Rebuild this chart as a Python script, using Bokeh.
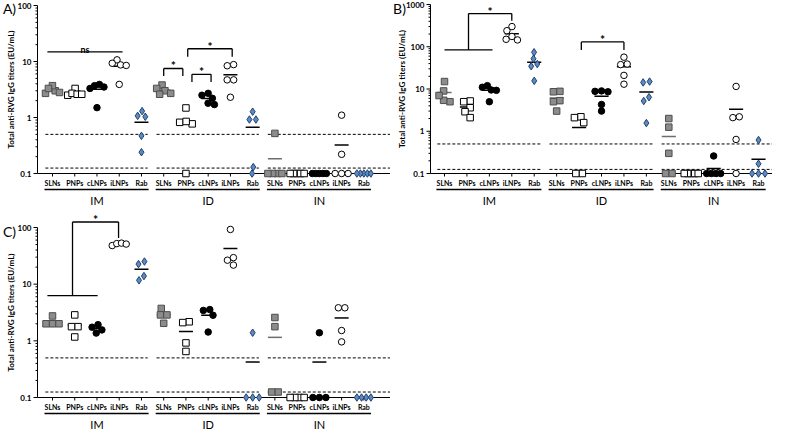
import numpy as np
from bokeh.plotting import figure
from bokeh.layouts import row, column
from bokeh.models import Range1d
from bokeh.core.properties import value
from bokeh.embed import file_html
from bokeh.resources import INLINE

FONT = "Lato"

categories = ["SLNs", "PNPs", "cLNPs", "iLNPs", "Rab"]
routes = ["IM", "ID", "IN"]
lod_levels = [0.5, 0.125]
y_label = "Total anti-RVG IgG titers (EU/mL)"
panel_titles = ["A)", "B)", "C)"]
y_ticks_A = [0.1, 1, 10, 100]
y_ticks_B = [0.1, 1, 10, 100, 1000]
y_ticks_C = [0.1, 1, 10, 100]
y_tick_labels_A = ["0.1", "1", "10", "100"]
y_tick_labels_B = ["0.1", "1", "10", "100", "1000"]
y_tick_labels_C = ["0.1", "1", "10", "100"]

# ---- Panel A values (EU/mL), per route, in category order ----
A_IM = [[2.7, 3.0, 3.7, 3.3, 2.8], [3.3, 2.5, 2.7, 2.6, 2.6], [3.3, 3.9, 3.5, 3.7, 1.5],
        [10.7, 9.3, 8.7, 8.5, 3.9], [1.3, 1.07, 1.03, 0.47, 0.24]]
A_ID = [[3.8, 3.3, 3.0, 2.7, 2.6], [1.48, 0.82, 0.77, 0.85, 0.1], [2.7, 1.7, 2.2, 2.5, 1.8],
        [8.8, 8.4, 4.7, 4.7, 2.3], [1.27, 0.92, 0.92, 0.13, 0.1]]
A_IN = [[0.52, 0.1, 0.1, 0.1, 0.1], [0.1, 0.1, 0.1, 0.1, 0.1], [0.1, 0.1, 0.1, 0.1, 0.1],
        [1.1, 0.22, 0.1, 0.1, 0.1], [0.1, 0.1, 0.1, 0.1, 0.1]]

# ---- Panel B ----
B_IM = [[15.0, 9.0, 5.0, 5.4, 7.0], [5.2, 5.0, 3.6, 2.9, 2.1], [9.3, 11.0, 12.0, 9.5, 5.0],
        [300, 240, 150, 175, 145], [74, 52, 39, 34.5, 15.6]]
B_ID = [[8.8, 8.6, 5.3, 5.0, 3.0], [2.2, 2.1, 1.6, 0.1, 0.1], [8.6, 9.0, 8.8, 4.3, 3.0],
        [56.7, 37.8, 39.0, 21.0, 13.0], [14.3, 15.0, 6.4, 5.2, 1.56]]
B_IN = [[2.0, 1.25, 0.3, 0.1, 0.1], [0.1, 0.1, 0.1, 0.1, 0.1], [0.26, 0.1, 0.1, 0.1, 0.1],
        [11.5, 2.1, 2.2, 0.64, 0.1], [0.62, 0.17, 0.1, 0.1, 0.1]]

# ---- Panel C ----
C_IM = [[2.75, 2.0, 2.0, 2.0], [2.87, 1.78, 1.78, 1.17], [1.37, 1.74, 1.93, 1.56],
        [48, 52, 53, 51], [25.1, 22.6, 13.9, 11.7]]
C_ID = [[3.73, 2.87, 2.87, 2.04], [2.17, 2.1, 0.92, 0.65], [3.44, 3.56, 2.83, 1.43],
        [92.4, 29.4, 26.5, 21.7], [1.39, 0.1, 0.1, 0.1]]
C_IN = [[2.58, 1.78, 0.125, 0.125], [0.1, 0.1, 0.1, 0.1], [1.39, 0.1, 0.1, 0.1],
        [3.83, 3.83, 1.52, 0.96], [0.1, 0.1, 0.1, 0.1]]

# significance annotations: (x_left, x_right, y_top, y_leg_end) in category units / EU/mL
A_ns_bars = [(-0.23, 3.15, 14.8, "ns")]
A_brackets = [(5.0, 5.86, 7.5, 5.5), (6.27, 7.13, 5.9, 4.3), (6.08, 8.08, 16.9, 12.2)]
B_brackets = [(6.1, 8.0, 130, 84)]
C_brackets = []
# composite: (base_x0, base_x1, base_y, top_y, right_x, right_leg_end)
A_composite = []
B_composite = [(0.0, 2.14, 84, 610, 3.0, 412)]
C_composite = [(-0.23, 2.03, 6.3, 125, 2.97, 65)]

styles = {
    "SLNs": dict(marker="square", size=6.5, fill_color="#8c8c8c", line_color="#4d4d4d", mean="#6e6e6e"),
    "PNPs": dict(marker="square", size=6.5, fill_color="white", line_color="black", mean="black"),
    "cLNPs": dict(marker="circle", size=6.5, fill_color="black", line_color="black", mean="black"),
    "iLNPs": dict(marker="circle", size=6.5, fill_color="white", line_color="black", mean="black"),
    "Rab": dict(marker="diamond", size=7.5, fill_color="#5b8ac6", line_color="#21416b", mean="black"),
}

# layout geometry (pixels inside each figure)
configs = [
    dict(fig_w=390, fig_h=213, axis_x=37, cat0=52, top_val=100, top_px=5, ppd=56.0, ppc=22.24,
         ylab_x=10, title_xy=(9, 8)),
    dict(fig_w=382, fig_h=213, axis_x=40, cat0=54, top_val=1000, top_px=4, ppd=42.25, ppc=22.43,
         ylab_x=11, title_xy=(9, 8)),
    dict(fig_w=390, fig_h=218, axis_x=37, cat0=52, top_val=100, top_px=14, ppd=56.67, ppc=22.24,
         ylab_x=10, title_xy=(9, 18)),
]


def swarm(ypx, d=6.5, limit=7.0):
    n = len(ypx)
    order = sorted(range(n), key=lambda i: ypx[i])
    xs = [0.0] * n
    placed = []
    for i in order:
        cands = [0.0]
        for j in placed:
            dy = ypx[i] - ypx[j]
            if abs(dy) < d:
                dx = (d * d - dy * dy) ** 0.5
                cands += [xs[j] - dx, xs[j] + dx]
        cands.sort(key=lambda c: (abs(c), c))
        for c in cands:
            if all((c - xs[j]) ** 2 + (ypx[i] - ypx[j]) ** 2 >= d * d - 1e-6 for j in placed):
                xs[i] = c
                break
        placed.append(i)
    parent = list(range(n))

    def find(a):
        while parent[a] != a:
            parent[a] = parent[parent[a]]
            a = parent[a]
        return a
    for i in range(n):
        for j in range(i + 1, n):
            if abs(ypx[i] - ypx[j]) < d:
                parent[find(i)] = find(j)
    comps = {}
    for i in range(n):
        comps.setdefault(find(i), []).append(i)
    for members in comps.values():
        vals = [xs[i] for i in members]
        shift = (min(vals) + max(vals)) / 2
        for i in members:
            xs[i] -= shift
        m = max(abs(xs[i]) for i in members)
        if m > limit:
            for i in members:
                xs[i] *= limit / m
    return xs


def make_panel(cfg, data, ticks, tick_labels, ns_bars, brackets, composites, title):
    lt = np.log10(cfg["top_val"])
    ppd, tp, ppc = cfg["ppd"], cfg["top_px"], cfg["ppc"]

    def Y(px):
        return 10 ** (lt - (px - tp) / ppd)

    def PX(v):
        return tp + (lt - np.log10(v)) * ppd

    xs0 = -cfg["cat0"] / ppc
    xs1 = xs0 + cfg["fig_w"] / ppc

    def X(px):
        return xs0 + px / ppc

    p = figure(frame_width=cfg["fig_w"], frame_height=cfg["fig_h"],
               min_border_left=0, min_border_right=0, min_border_top=0, min_border_bottom=0,
               x_range=Range1d(xs0, xs1), y_range=Range1d(Y(cfg["fig_h"]), Y(0)),
               y_axis_type="log", x_axis_location=None, y_axis_location=None,
               toolbar_location=None, output_backend="svg", title=None)
    p.grid.visible = False
    p.outline_line_color = None
    p.background_fill_color = "white"
    p.border_fill_color = "white"

    top = cfg["top_val"]
    ax_x = X(cfg["axis_x"])
    axis_px = PX(0.1)
    ncat = len(categories)

    # ---- y axis (drawn by hand so it ends at 0.1) ----
    minors = [k * 10.0 ** e for e in range(-1, 3) for k in range(2, 10) if k * 10.0 ** e < top]
    p.segment(x0=[ax_x], x1=[ax_x], y0=[0.1], y1=[top], line_color="black", line_width=1)
    p.segment(x0=[X(cfg["axis_x"] - 4)] * len(ticks), x1=[ax_x] * len(ticks), y0=ticks, y1=ticks,
              line_color="black", line_width=1)
    p.segment(x0=[X(cfg["axis_x"] - 2)] * len(minors), x1=[ax_x] * len(minors), y0=minors, y1=minors,
              line_color="black", line_width=1)
    p.text(x=[X(cfg["axis_x"] - 6)] * len(ticks), y=ticks, text=tick_labels, text_font=value(FONT),
           text_font_size="8px", text_font_style="bold", text_align="right", text_baseline="middle",
           text_color="black")
    p.text(x=[X(cfg["ylab_x"])], y=[np.sqrt(0.1 * top)], text=[y_label], angle=np.pi / 2,
           text_font=value(FONT), text_font_size="8px", text_font_style="bold", text_align="center",
           text_baseline="middle", text_color="black")

    # LOD dashed lines
    dx0, dx1, dy = [], [], []
    for g in range(len(routes)):
        a = g * ncat - 0.32
        b = g * ncat + 4.28 if g < len(routes) - 1 else xs1
        for lv in lod_levels:
            dx0.append(a); dx1.append(b); dy.append(lv)
    p.segment(x0=dx0, x1=dx1, y0=dy, y1=dy, line_color="black", line_width=1, line_dash="3 2")

    # x axis line and ticks
    cat_x = [g * ncat + c for g in range(len(routes)) for c in range(ncat)]
    p.segment(x0=[ax_x], x1=[xs1], y0=[0.1], y1=[0.1], line_color="black", line_width=1)
    p.segment(x0=cat_x, x1=cat_x, y0=[0.1] * len(cat_x), y1=[Y(axis_px + 3)] * len(cat_x),
              line_color="black", line_width=1)

    # mean lines
    for c, cat in enumerate(categories):
        st = styles[cat]
        mx0, mx1, my = [], [], []
        for g in range(len(routes)):
            center = g * ncat + c
            mval = float(np.mean(data[g][c]))
            mx0.append(center - 0.315); mx1.append(center + 0.315); my.append(mval)
        p.segment(x0=mx0, x1=mx1, y0=my, y1=my, line_color=st["mean"], line_width=1.5)

    # points
    for c, cat in enumerate(categories):
        st = styles[cat]
        px_, py_ = [], []
        for g in range(len(routes)):
            center = g * ncat + c
            vals = data[g][c]
            offs = swarm([PX(v) for v in vals])
            for v, o in zip(vals, offs):
                px_.append(center + o / ppc)
                py_.append(v)
        p.scatter(x=px_, y=py_, marker=st["marker"], size=st["size"], fill_color=st["fill_color"],
                  line_color=st["line_color"], line_width=1)

    # significance bars
    bx0, bx1, by0, by1 = [], [], [], []
    stars_x, stars_y = [], []

    def seg(a, b, c, d):
        bx0.append(a); bx1.append(b); by0.append(c); by1.append(d)
    for (a, b, yt, yl) in brackets:
        seg(a, b, yt, yt); seg(a, a, yt, yl); seg(b, b, yt, yl)
        stars_x.append((a + b) / 2); stars_y.append(Y(PX(yt) - 2.5))
    for (a, b, yb, yt, rx, rl) in composites:
        sx = (a + b) / 2
        seg(a, b, yb, yb); seg(sx, sx, yb, yt); seg(sx, rx, yt, yt); seg(rx, rx, yt, rl)
        stars_x.append((sx + rx) / 2); stars_y.append(Y(PX(yt) - 2.5))
    for (a, b, yt, txt) in ns_bars:
        seg(a, b, yt, yt)
        p.text(x=[(a + b) / 2], y=[Y(PX(yt) - 2)], text=[txt], text_font=value(FONT),
               text_font_size="9px", text_font_style="bold", text_align="center",
               text_baseline="alphabetic", text_color="black")
    if bx0:
        p.segment(x0=bx0, x1=bx1, y0=by0, y1=by1, line_color="black", line_width=1.3)
    if stars_x:
        p.text(x=stars_x, y=stars_y, text=["*"] * len(stars_x), text_font=value(FONT),
               text_font_size="12px", text_font_style="bold", text_align="center",
               text_baseline="middle", text_color="black")

    # category labels
    p.text(x=cat_x, y=[Y(axis_px + 9)] * len(cat_x), text=categories * len(routes),
           text_font=value(FONT), text_font_size="7px", text_font_style="bold",
           text_align="center", text_baseline="middle", text_color="black")
    # route bars and labels
    gy = Y(axis_px + 16)
    p.segment(x0=[g * ncat - 0.36 for g in range(len(routes))],
              x1=[g * ncat + 4.32 for g in range(len(routes))],
              y0=[gy] * len(routes), y1=[gy] * len(routes), line_color="black", line_width=1.3)
    p.text(x=[g * ncat + 2 for g in range(len(routes))], y=[Y(axis_px + 27)] * len(routes),
           text=routes, text_font=value(FONT), text_font_size="11px", text_align="center",
           text_baseline="middle", text_color="black")

    tx, ty = cfg["title_xy"]
    p.text(x=[X(tx)], y=[Y(ty)], text=[title], text_font=value(FONT), text_font_size="14px",
           text_align="center", text_baseline="middle", text_color="black")
    return p


pA = make_panel(configs[0], [A_IM, A_ID, A_IN], y_ticks_A, y_tick_labels_A,
                A_ns_bars, A_brackets, A_composite, panel_titles[0])
pB = make_panel(configs[1], [B_IM, B_ID, B_IN], y_ticks_B, y_tick_labels_B,
                [], B_brackets, B_composite, panel_titles[1])
pC = make_panel(configs[2], [C_IM, C_ID, C_IN], y_ticks_C, y_tick_labels_C,
                [], C_brackets, C_composite, panel_titles[2])

layout = column(row(pA, pB), pC)
open("out.html", "w").write(file_html(layout, INLINE))
